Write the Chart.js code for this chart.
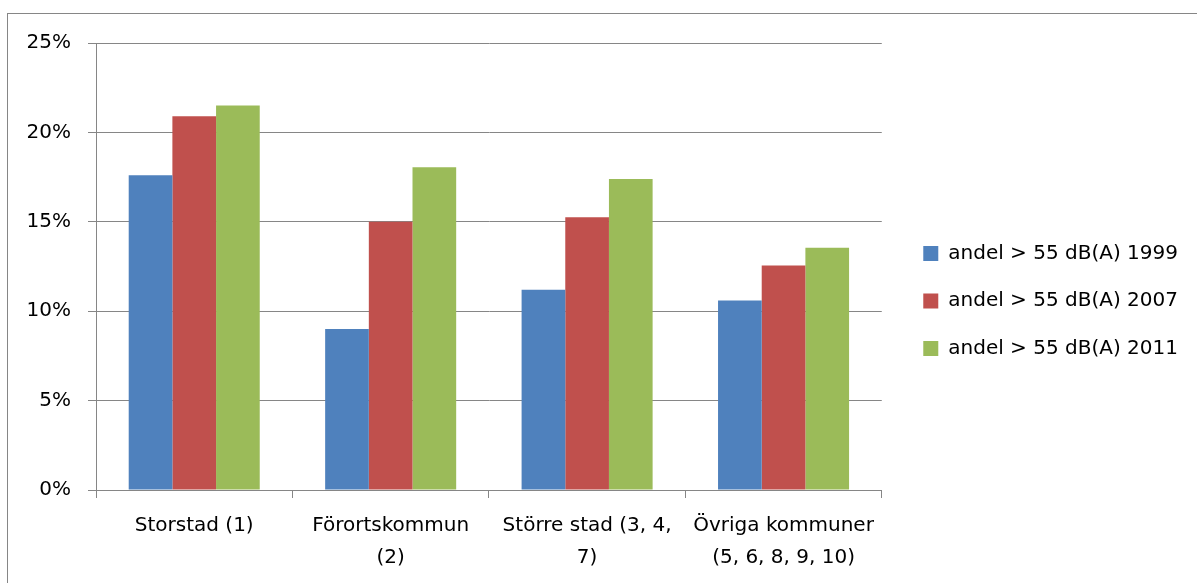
<!DOCTYPE html>
<html>
<head>
<meta charset="utf-8">
<script src="https://cdn.jsdelivr.net/npm/chart.js@4.4.1/dist/chart.umd.min.js"></script>
<style>
  html, body { margin: 0; padding: 0; background: #fff; overflow: hidden; }
  #frame { position: absolute; left: 7px; top: 13px; width: 1400px; height: 800px; border: 1px solid #868686; }
  #wrap { position: absolute; left: 0; top: 0; width: 1197px; height: 583px; }
</style>
</head>
<body>
<div id="frame"></div>
<div id="wrap"><canvas id="chart"></canvas></div>
<script>
// categories (wrapped like the original axis labels)
const categories = [
  ['Storstad (1)'],
  ['Förortskommun', '(2)'],
  ['Större stad (3, 4,', '7)'],
  ['Övriga kommuner', '(5, 6, 8, 9, 10)']
];

// share of people above 55 dB(A), percent
const share1999 = [17.6, 9.0, 11.2, 10.6];
const share2007 = [20.9, 15.0, 15.25, 12.55];
const share2011 = [21.5, 18.05, 17.4, 13.55];

const seriesNames = ['andel > 55 dB(A) 1999', 'andel > 55 dB(A) 2007', 'andel > 55 dB(A) 2011'];
const yTicks = [0, 5, 10, 15, 20, 25];

const gray = '#868686';
Chart.defaults.font.family = 'DejaVu Sans';
Chart.defaults.font.size = 20;
Chart.defaults.color = '#000';

// small nudge so the legend sits where Excel put it
const legendNudge = {
  id: 'legendNudge',
  afterLayout(chart) {
    const lg = chart.legend;
    if (!lg) return;
    const dx = 14, dy = -12;
    lg.left += dx; lg.right += dx;
    lg.top += dy; lg.bottom += dy;
  }
};

const ctx = document.getElementById('chart').getContext('2d');
const chart = new Chart(ctx, {
  type: 'bar',
  data: {
    labels: categories,
    datasets: [
      { label: seriesNames[0], data: share1999, backgroundColor: '#4F81BD' },
      { label: seriesNames[1], data: share2007, backgroundColor: '#C0504D' },
      { label: seriesNames[2], data: share2011, backgroundColor: '#9BBB59' }
    ]
  },
  options: {
    responsive: true,
    maintainAspectRatio: false,
    animation: false,
    layout: { padding: { left: 0, top: 43, right: 23, bottom: 0 } },
    datasets: {
      bar: { categoryPercentage: 0.667, barPercentage: 1.0 }
    },
    plugins: {
      tooltip: { enabled: false },
      legend: {
        position: 'right',
        labels: { boxWidth: 15, boxHeight: 15, padding: 27.5, font: { size: 20 } }
      }
    },
    scales: {
      x: {
        grid: { offset: true, drawOnChartArea: false, tickLength: 8, color: gray },
        border: { color: gray },
        ticks: { autoSkip: false, maxRotation: 0, padding: 12, font: { size: 20, lineHeight: 1.6 } },
        afterFit(scale) { scale.height = 93; }
      },
      y: {
        min: 0,
        max: 25,
        afterBuildTicks(scale) { scale.ticks = yTicks.map(v => ({ value: v })); },
        grid: { color: gray, tickLength: 8 },
        border: { color: gray },
        ticks: { padding: 17, callback: v => v + '%' },
        afterFit(scale) { scale.width = 96; }
      }
    }
  },
  plugins: [legendNudge]
});
</script>
</body>
</html>
